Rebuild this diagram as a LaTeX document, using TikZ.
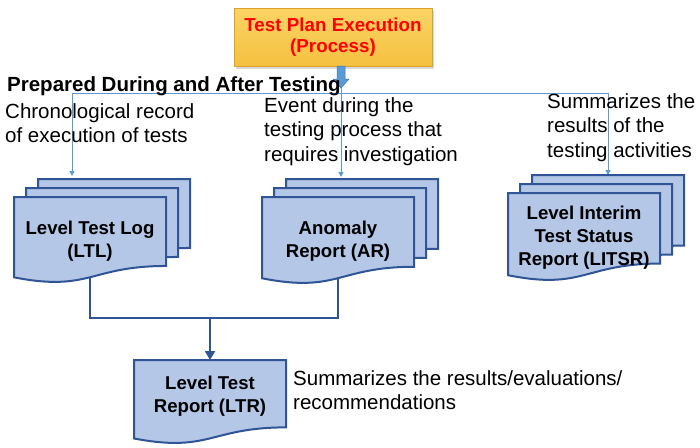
\documentclass[tikz,border=0pt]{standalone}
\usepackage{fontspec}
\setmainfont{Liberation Sans}
\usetikzlibrary{arrows.meta,shadows}
\definecolor{docfill}{RGB}{180,199,231}
\definecolor{docline}{RGB}{47,85,151}
\definecolor{thinblue}{RGB}{91,155,213}
\definecolor{arrowedge}{RGB}{65,113,180}
\definecolor{goldtop}{RGB}{250,212,100}
\definecolor{goldbot}{RGB}{245,192,64}
\definecolor{goldline}{RGB}{222,160,40}
\definecolor{titlered}{RGB}{255,0,0}
\newcommand\mydoc[3]{%
  \filldraw[docstyle] (#1,#2) -- ({#1+152},#2) -- ({#1+152},{#2+0.802*#3})
    .. controls ({#1+76},{#2+0.802*#3}) and ({#1+76},{#2+1.107*#3}) .. (#1,{#2+0.934*#3}) -- cycle;}
\newcommand\mystack[3]{%
  \mydoc{#1+24}{#2-18}{#3}\mydoc{#1+12}{#2-9}{#3}\mydoc{#1}{#2}{#3}}
\tikzset{
  docstyle/.style={fill=docfill,draw=docline,line width=2pt},
  doclabel/.style={font=\bfseries\fontsize{18.6}{23}\selectfont,align=center,inner sep=0pt,text=black},
  desc/.style={font=\fontsize{20.5}{24.5}\selectfont,align=left,inner sep=0pt,text=black},
  thinline/.style={draw=thinblue,line width=1pt},
  thinarrow/.style={thinline,-{Triangle[width=5pt,length=5pt]}},
  thickline/.style={draw=docline,line width=2pt},
  titlebox/.style={top color=goldtop,bottom color=goldbot,draw=goldline,line width=0.8pt,minimum width=198pt,minimum height=58pt,
    align=center,font=\bfseries\fontsize{18.8}{21.5}\selectfont,text=titlered,
    drop shadow={opacity=0.3,shadow xshift=1.5pt,shadow yshift=-2.5pt}},
}
\begin{document}
\begin{tikzpicture}[x=1pt,y=-1pt]
\useasboundingbox (0,0) rectangle (700,447);
\fill[white] (0,0) rectangle (700,447);
% title
\node[titlebox] (title) at (333,37) {Test Plan Execution\\(Process)};
% block arrow under title
\filldraw[fill=thinblue,draw=arrowedge,line width=0.5pt] (337,66) -- (345,66) -- (345,79) -- (349,79) -- (341,88) -- (333,79) -- (337,79) -- cycle;
\coordinate (ba) at (341,88);
\coordinate (junction) at (341,93);
\coordinate (ltlin) at (72,176);
\coordinate (arin) at (341,177);
\coordinate (litsrin) at (608,175);
\draw[thinline] (ba) -- (junction);
\draw[thinarrow] (junction) -| (ltlin);
\draw[thinarrow] (junction) -- (arin);
\draw[thinarrow] (junction) -| (litsrin);
% thick connectors
\coordinate (ltlout) at (90,265);
\coordinate (arout) at (338,265);
\coordinate (bus) at (210,318);
\coordinate (ltrin) at (210,360);
\draw[thickline] (ltlout) -- (ltlout |- bus) -- (arout |- bus) -- (arout);
\draw[thickline,-{Triangle[width=10pt,length=9pt]}] (bus) -- (ltrin);
% documents
\mystack{14}{197}{86}
\mystack{262}{197}{87}
\mystack{508}{193}{88}
\mydoc{134}{360}{84}
\node[doclabel] (ltl) at (90,241) {Level Test Log\\(LTL)};
\node[doclabel] (ar) at (338,241) {Anomaly\\Report (AR)};
\node[doclabel] (litsr) at (584,238) {Level Interim\\Test Status\\Report (LITSR)};
\node[doclabel] (ltr) at (210,396) {Level Test\\Report (LTR)};
% texts
\node[desc,font=\bfseries\fontsize{20.5}{24.5}\selectfont,anchor=base west] (prep) at (7,91) {Prepared During and After Testing};
\node[desc,anchor=north west] (d1) at (5,103) {Chronological record\\of execution of tests};
\node[desc,anchor=north west] (d2) at (264,97) {Event during the\\testing process that\\requires investigation};
\node[desc,anchor=north west] (d3) at (547,93) {Summarizes the\\results of the\\testing activities};
\node[desc,anchor=north west] (d4) at (293,370) {Summarizes the results/evaluations/\\recommendations};
\end{tikzpicture}
\end{document}
